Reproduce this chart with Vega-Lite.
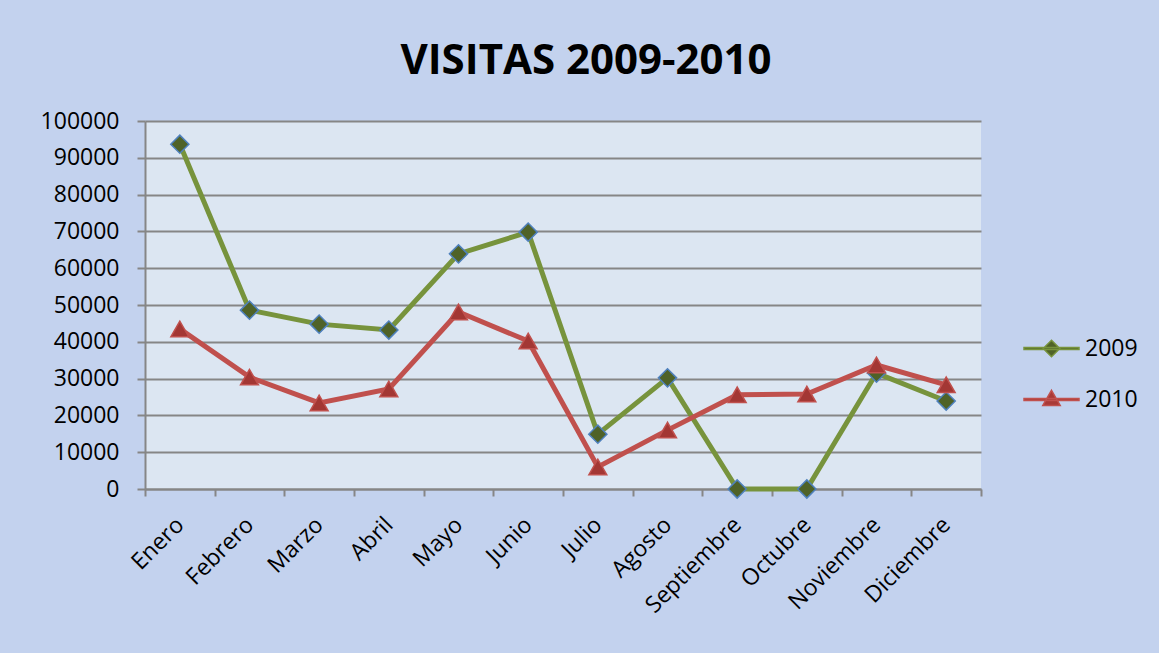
{
  "$schema": "https://vega.github.io/schema/vega-lite/v6.json",
  "width": 836,
  "height": 368,
  "autosize": {"type": "none"},
  "padding": {"left": 145, "top": 121, "right": 178, "bottom": 164},
  "background": "#c3d2ee",
  "title": {
    "text": "VISITAS 2009-2010",
    "font": "Open Sans",
    "fontSize": 42,
    "fontWeight": "bold",
    "color": "#000000",
    "anchor": "middle",
    "frame": "group",
    "dx": 23,
    "offset": 27
  },
  "config": {
    "view": {"fill": "#dce6f2", "stroke": null},
    "axis": {
      "labelFont": "Open Sans",
      "labelFontSize": 23,
      "labelColor": "#000000",
      "domainColor": "#868686",
      "domainWidth": 2,
      "tickColor": "#868686",
      "tickWidth": 2,
      "gridColor": "#868686",
      "gridWidth": 2,
      "title": null
    }
  },
  "data": {
    "values": [
      {"mes": "Enero", "serie": "2009", "visitas": 93700},
      {"mes": "Febrero", "serie": "2009", "visitas": 48600},
      {"mes": "Marzo", "serie": "2009", "visitas": 44800},
      {"mes": "Abril", "serie": "2009", "visitas": 43200},
      {"mes": "Mayo", "serie": "2009", "visitas": 63900},
      {"mes": "Junio", "serie": "2009", "visitas": 69800},
      {"mes": "Julio", "serie": "2009", "visitas": 14900},
      {"mes": "Agosto", "serie": "2009", "visitas": 30200},
      {"mes": "Septiembre", "serie": "2009", "visitas": 0},
      {"mes": "Octubre", "serie": "2009", "visitas": 0},
      {"mes": "Noviembre", "serie": "2009", "visitas": 31500},
      {"mes": "Diciembre", "serie": "2009", "visitas": 23900},
      {"mes": "Enero", "serie": "2010", "visitas": 43500},
      {"mes": "Febrero", "serie": "2010", "visitas": 30400},
      {"mes": "Marzo", "serie": "2010", "visitas": 23400},
      {"mes": "Abril", "serie": "2010", "visitas": 27200},
      {"mes": "Mayo", "serie": "2010", "visitas": 48100},
      {"mes": "Junio", "serie": "2010", "visitas": 40200},
      {"mes": "Julio", "serie": "2010", "visitas": 6000},
      {"mes": "Agosto", "serie": "2010", "visitas": 16000},
      {"mes": "Septiembre", "serie": "2010", "visitas": 25600},
      {"mes": "Octubre", "serie": "2010", "visitas": 25800},
      {"mes": "Noviembre", "serie": "2010", "visitas": 33700},
      {"mes": "Diciembre", "serie": "2010", "visitas": 28300}
    ]
  },
  "encoding": {
    "x": {
      "field": "mes",
      "type": "nominal",
      "bandPosition": 0.5,
      "sort": ["Enero", "Febrero", "Marzo", "Abril", "Mayo", "Junio", "Julio", "Agosto", "Septiembre", "Octubre", "Noviembre", "Diciembre"],
      "scale": {"type": "band", "paddingInner": 0, "paddingOuter": 0},
      "axis": {
        "tickBand": "extent",
        "tickSize": 7,
        "labelAngle": -45,
        "labelAlign": "right",
        "labelBaseline": "middle",
        "labelPadding": 25,
        "grid": false
      }
    },
    "y": {
      "field": "visitas",
      "type": "quantitative",
      "scale": {"domain": [0, 100000], "nice": false},
      "axis": {
        "values": [0, 10000, 20000, 30000, 40000, 50000, 60000, 70000, 80000, 90000, 100000],
        "format": "d",
        "grid": true,
        "tickSize": 8,
        "labelPadding": 18
      }
    }
  },
  "layer": [
    {
      "mark": {"type": "line", "strokeWidth": 5},
      "encoding": {
        "color": {
          "field": "serie",
          "type": "nominal",
          "scale": {"domain": ["2009", "2010"], "range": ["#77933c", "#c0504d"]},
          "legend": {
            "orient": "none",
            "legendX": 895,
            "legendY": 216,
            "title": null,
            "padding": 0,
            "labelFont": "Open Sans",
            "labelFontSize": 23,
            "labelColor": "#000000",
            "labelOffset": 22,
            "rowPadding": 26,
            "symbolSize": 336,
            "symbolStrokeWidth": 1.5,
            "encode": {
              "symbols": {
                "update": {
                  "shape": {"signal": "datum.value == '2009' ? 'M-3,-0.12H3V0.12H-3Z M0,-0.9L0.9,0L0,0.9L-0.9,0Z' : 'M-3,-0.12H3V0.12H-3Z M0,-1L0.95,0.65L-0.95,0.65Z'"},
                  "fill": {"signal": "datum.value == '2009' ? '#4f6228' : '#a93a37'"},
                  "stroke": {"signal": "datum.value == '2009' ? '#77933c' : '#c0504d'"}
                }
              }
            }
          }
        }
      }
    },
    {
      "transform": [{"filter": "datum.serie == '2009'"}],
      "mark": {"type": "point", "shape": "diamond", "size": 330, "filled": true, "fill": "#4f6228", "stroke": "#4f81bd", "strokeWidth": 1.5, "opacity": 1}
    },
    {
      "transform": [{"filter": "datum.serie == '2010'"}],
      "mark": {"type": "point", "shape": "triangle-up", "size": 320, "filled": true, "fill": "#a33734", "stroke": "#c0504d", "strokeWidth": 1.5, "opacity": 1}
    }
  ]
}
